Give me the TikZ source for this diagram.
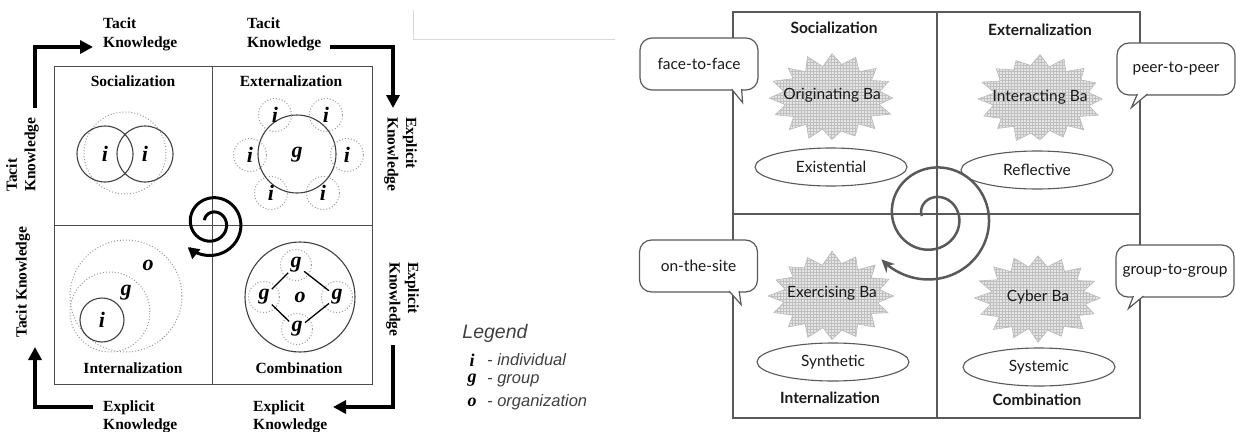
\documentclass[tikz,border=0pt]{standalone}
\usepackage{fontspec}
\setmainfont{Liberation Serif}
\newfontfamily\gillf{Lato}
\newfontfamily\arialf{Liberation Sans}
\usetikzlibrary{shapes.geometric,arrows.meta,calc,patterns}
\pgfmathsetseed{7}
\newcommand\burstat[2]{%
  \draw[burst] plot[samples at={0,...,31}, variable=\i]
   ({#1+(60-14*mod(\i,2)+4*rnd)*cos(\i*11.25)},{#2-(41-10*mod(\i,2)+4*rnd)*sin(\i*11.25)}) -- cycle;}
\begin{document}
\begin{tikzpicture}[x=1pt,y=-1pt,
  kn/.style={font=\fontsize{15.5}{18.5}\selectfont\bfseries, align=left, inner sep=0pt},
  qt/.style={font=\fontsize{15.5}{18}\selectfont\bfseries, inner sep=0pt},
  let/.style={font=\fontsize{22}{22}\selectfont\bfseries\itshape, inner sep=0pt},
  solidc/.style={draw=black!75, line width=1.1pt},
  dotc/.style={draw=gray!80, line width=1pt, dash pattern=on 1pt off 2pt},
  bigarrow/.style={line width=4pt, -{Triangle[length=13pt,width=13pt]}},
  frame/.style={draw=black!70, line width=1pt},
  rframe/.style={draw=black!65, line width=1.2pt},
  rt/.style={font=\gillf\fontsize{15.5}{18}\selectfont\bfseries, text=black!90, inner sep=0pt},
  rtxt/.style={font=\gillf\fontsize{15.5}{18}\selectfont, text=black!90, inner sep=0pt},
  ell/.style={ellipse, draw=black!65, line width=1.1pt, minimum width=152pt, minimum height=38pt, inner sep=0pt, text=black!90, font=\gillf\fontsize{15.5}{18}\selectfont},
  bubble/.style={draw=black!65, line width=1.2pt, rounded corners=12pt, minimum width=118pt, minimum height=52pt, fill=white, inner sep=0pt, text=black!90, font=\gillf\fontsize{15.5}{18}\selectfont},
  tail/.style={draw=black!65, line width=1.2pt, fill=white},
  burst/.style={draw=gray!55, line width=0.6pt, fill=gray!20, postaction={pattern=grid, pattern color=gray!50}},
  leg/.style={font=\arialf\itshape\fontsize{16.5}{18}\selectfont, text=black!75, inner sep=0pt},
  leglet/.style={font=\fontsize{18}{18}\selectfont\bfseries\itshape, inner sep=0pt}
]
\useasboundingbox (0,0) rectangle (1236,431);

% ---------------- left figure ----------------
\draw[frame] (54,66) rectangle (372,384);
\draw[frame] (212,66) -- (212,384);
\draw[frame] (54,225) -- (372,225);

\node[qt] (soc) at (133,81) {Socialization};
\node[qt] (ext) at (291,81) {Externalization};
\node[qt] (int) at (133,368) {Internalization};
\node[qt] (com) at (299,368) {Combination};

% knowledge labels
\node[kn, anchor=west] (tk1) at (103,34.5) {Tacit\\Knowledge};
\node[kn, anchor=west] (tk2) at (247,34.5) {Tacit\\Knowledge};
\node[kn, anchor=west] (ek1) at (103,417) {Explicit\\Knowledge};
\node[kn, anchor=west] (ek2) at (253,417) {Explicit\\Knowledge};
\node[kn, anchor=west, rotate=90] (tk3) at (22.5,192) {Tacit\\Knowledge};
\node[kn, anchor=west, rotate=90] (tk4) at (23,338) {Tacit Knowledge};
\node[kn, anchor=west, rotate=-90] (ek3) at (400.5,117) {Explicit\\Knowledge};
\node[kn, anchor=west, rotate=-90] (ek4) at (402.5,262) {Explicit\\Knowledge};

% corner arrows
\coordinate (a1s) at (35,108); \coordinate (a1c) at (35,47); \coordinate (a1e) at (93,47);
\draw[bigarrow] (a1s) -- (a1c) -- (a1e);
\coordinate (a2s) at (330,47); \coordinate (a2c) at (393,47); \coordinate (a2e) at (393,108);
\draw[bigarrow] (a2s) -- (a2c) -- (a2e);
\coordinate (a3s) at (393,345); \coordinate (a3c) at (393,407); \coordinate (a3e) at (333,407);
\draw[bigarrow] (a3s) -- (a3c) -- (a3e);
\coordinate (a4s) at (93,407); \coordinate (a4c) at (35,407); \coordinate (a4e) at (35,347);
\draw[bigarrow] (a4s) -- (a4c) -- (a4e);

% socialization
\node[let] (si1) at (105,154) {i};
\node[let] (si2) at (145,154) {i};
\coordinate (sc) at (125,153);
\draw[dotc] (sc) circle[radius=41pt];
\draw[solidc] (si1) circle[radius=28pt];
\draw[solidc] (si2) circle[radius=28pt];

% externalization
\node[let] (eg) at (297,155) {g};
\draw[solidc] (297,154) circle[radius=39pt];
\foreach \n/\x/\y in {e1/275/115, e2/326/115, e3/250/155, e4/347/155, e5/271/193, e6/323/193}{
  \node[let] (\n) at (\x,\y) {i};
  \draw[dotc] (\x,\y) circle[radius=16.5pt];
}

% spiral left
\draw[line width=3pt, -{Triangle[length=11pt,width=12pt]}]
  plot[domain=0:655, samples=200, variable=\s]
  ({212+(8+0.04*\s)*cos(160-\s)},{223-(8+0.04*\s)*sin(160-\s)});

% internalization
\draw[dotc] (126,296) circle[radius=56pt];
\draw[dotc] (110,312) circle[radius=40pt];
\node[let] (ii) at (102,320) {i};
\draw[solidc] (ii) circle[radius=22pt];
\node[let] (ig) at (126,293) {g};
\node[let] (io) at (148,265) {o};

% combination
\draw[solidc] (300,297) circle[radius=55pt];
\node[let] (co) at (300,297) {o};
\node[let] (cg1) at (296,265) {g};
\node[let] (cg2) at (337,297) {g};
\node[let] (cg3) at (297,329) {g};
\node[let] (cg4) at (264,297) {g};
\foreach \n in {cg1,cg2,cg3,cg4}{\draw[dotc] (\n) circle[radius=15.5pt];}
\draw[line width=1.3pt, shorten <=3pt, shorten >=3pt] (cg1) -- (cg2);
\draw[line width=1.3pt, shorten <=3pt, shorten >=3pt] (cg2) -- (cg3);
\draw[line width=1.3pt, shorten <=3pt, shorten >=3pt] (cg3) -- (cg4);
\draw[line width=1.3pt, shorten <=3pt, shorten >=3pt] (cg4) -- (cg1);

% legend
\node[leg, font=\arialf\itshape\fontsize{19.5}{20}\selectfont] (legt) at (495,333) {Legend};
\node[leglet] (l1) at (472,360) {i};
\node[leg, anchor=west] (l1t) at (487,360) {- individual};
\node[leglet] (l2) at (472,380) {g};
\node[leg, anchor=west] (l2t) at (487,381) {- group};
\node[leglet] (l3) at (472,402) {o};
\node[leg, anchor=west] (l3t) at (487,402) {- organization};

% stray light frame line
\coordinate (g1) at (413,10); \coordinate (g2) at (413,39); \coordinate (g3) at (615,39);
\draw[gray!30, line width=1pt] (g1) -- (g2) -- (g3);

% ---------------- right figure ----------------
\draw[rframe] (733,12) rectangle (1140,418);
\draw[rframe] (937,12) -- (937,418);
\draw[rframe] (733,214) -- (1140,214);

\node[rt] (rsoc) at (834,28) {Socialization};
\node[rt] (rext) at (1040,30) {Externalization};
\node[rt] (rint) at (830,398) {Internalization};
\node[rt] (rcom) at (1037,400) {Combination};

\burstat{832}{98}
\burstat{1040}{99}
\burstat{832}{296}
\burstat{1038}{298}
\node[rtxt] (ob) at (832,95) {Originating Ba};
\node[rtxt] (ib) at (1040,97) {Interacting Ba};
\node[rtxt] (eb) at (832,293) {Exercising Ba};
\node[rtxt] (cb) at (1038,297) {Cyber Ba};

\node[ell] (exi) at (831,167) {Existential};
\node[ell] (ref) at (1037,170) {Reflective};
\node[ell] (syn) at (833,362) {Synthetic};
\node[ell] (sys) at (1039,367) {Systemic};

% spiral right
\draw[line width=2.5pt, draw=black!65, -{Stealth[length=13pt,width=12pt]}]
  plot[domain=0:680, samples=220, variable=\s]
  ({933+(11+0.083*\s)*cos(180-\s)},{216-(11+0.083*\s)*sin(180-\s)});

% speech bubbles
\node[bubble] (ff) at (699,64) {face-to-face};
\coordinate (fft) at ($(ff.south east)+(-16,12)$);
\draw[tail] ($(ff.south east)+(-27,-1.5)$) -- (fft) -- ($(ff.south east)+(-17,-1.5)$);
\node[bubble] (pp) at (1176,69) {peer-to-peer};
\coordinate (ppt) at ($(pp.south west)+(15,12)$);
\draw[tail] ($(pp.south west)+(21,-1.5)$) -- (ppt) -- ($(pp.south west)+(31,-1.5)$);
\node[bubble] (ots) at (698.5,266) {on-the-site};
\coordinate (otst) at ($(ots.south east)+(-17,12)$);
\draw[tail] ($(ots.south east)+(-29,-1.5)$) -- (otst) -- ($(ots.south east)+(-19,-1.5)$);
\node[bubble] (gg) at (1175,271) {group-to-group};
\coordinate (ggt) at ($(gg.south west)+(13,11)$);
\draw[tail] ($(gg.south west)+(18,-1.5)$) -- (ggt) -- ($(gg.south west)+(28,-1.5)$);
\end{tikzpicture}
\end{document}
